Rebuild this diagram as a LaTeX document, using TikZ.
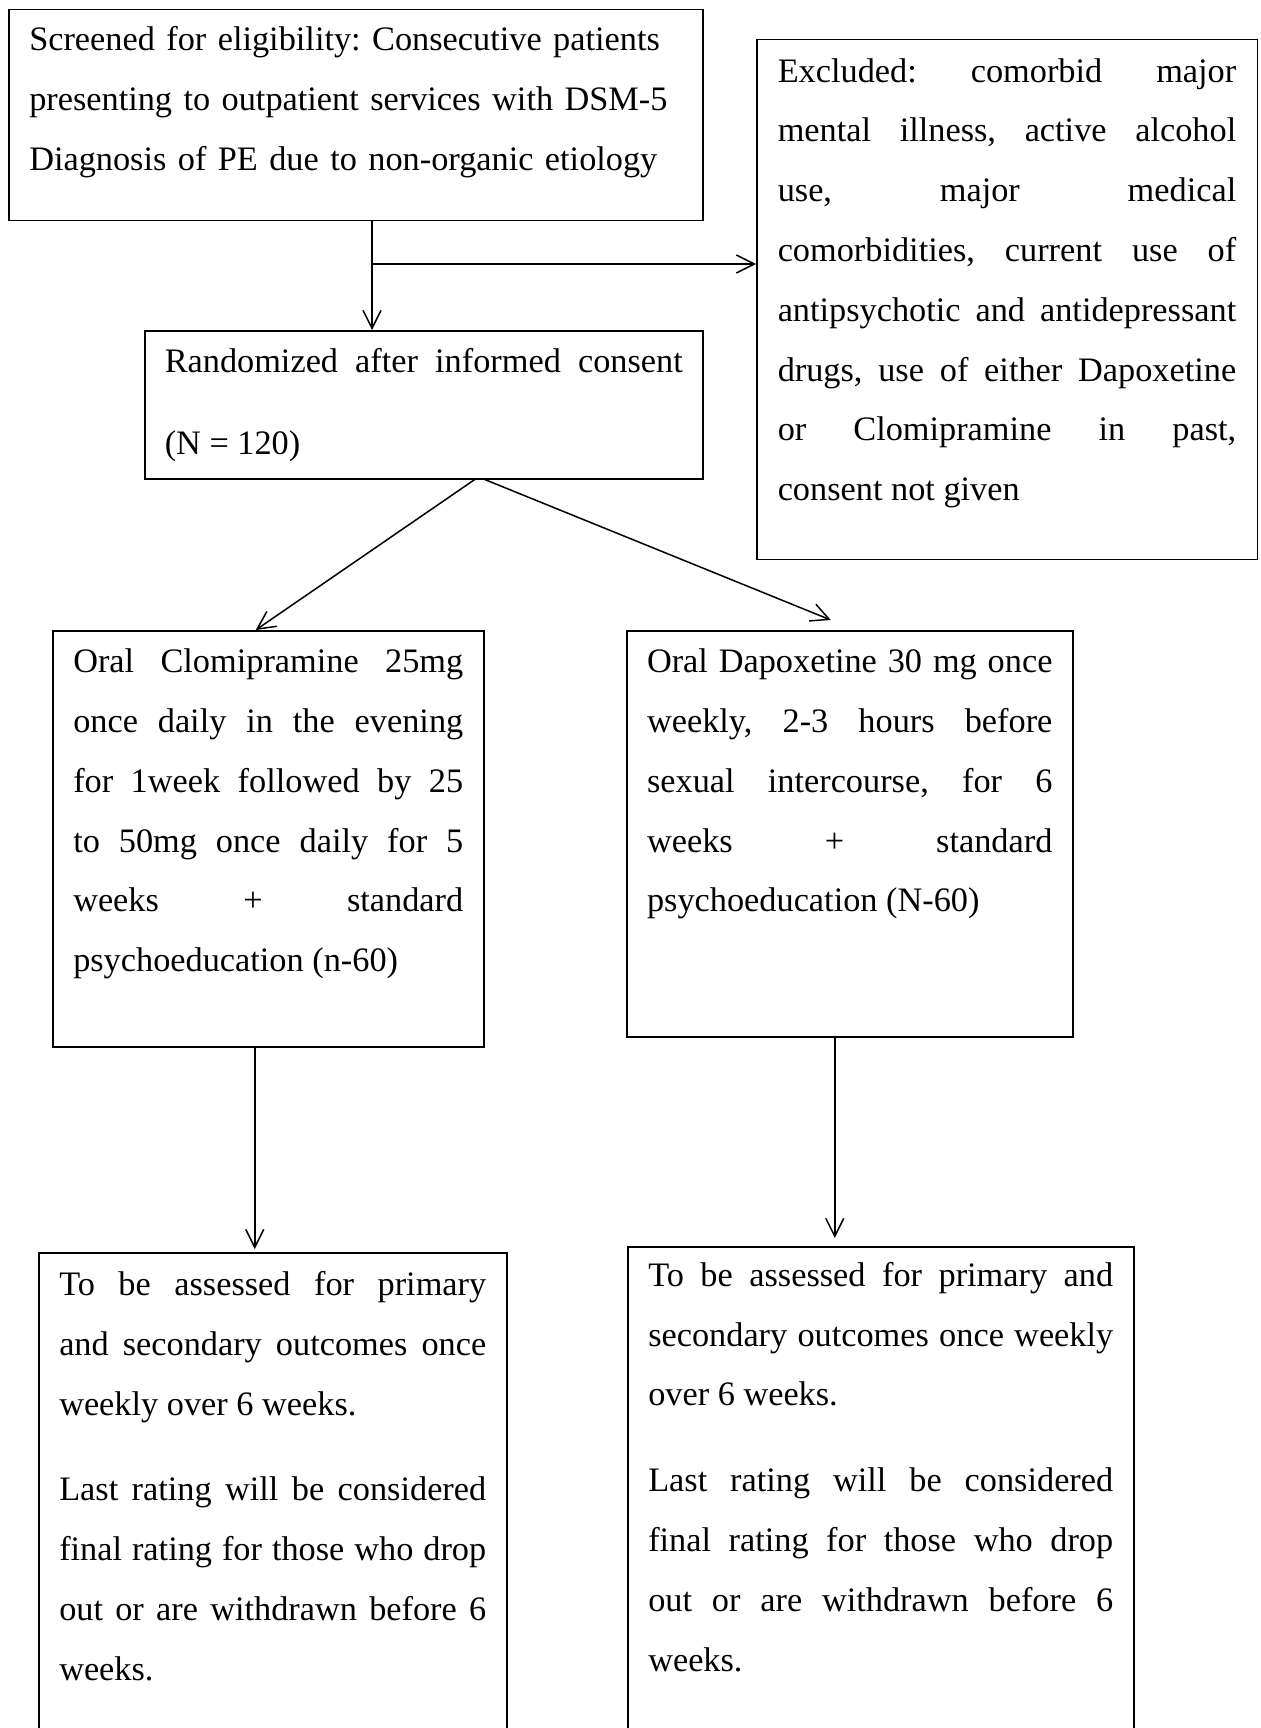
\documentclass[tikz,border=0pt]{standalone}
\usepackage{fontspec}
\setmainfont{Liberation Serif}
\usetikzlibrary{calc, arrows.meta}
\frenchspacing
\tikzset{
	FlowBox/.style={draw, line width=0.75pt, anchor=north west, inner ysep=0pt, align=justify,
		font=\fontsize{17.15}{29.9}\selectfont},
	FlowArrow/.style={line width=0.75pt, -{Straight Barb[length=9pt, width=9pt]}}
}

\begin{document}
\begin{tikzpicture}[x=0.5pt, y=-0.5pt]
	\path[use as bounding box, clip] (0,0) rectangle (1261,1728);

	% Screening, exclusion and randomisation
	\node[FlowBox, align=left, text width=326.5pt, inner xsep=10.25pt, text height=20.5pt, text depth=85pt] (screen) at (8,9)
		{Screened for eligibility: Consecutive patients\\presenting to outpatient services with DSM-5\\Diagnosis of PE due to non-organic etiology};
	\node[FlowBox, text width=229.25pt, inner xsep=10.5pt, text height=21.2pt, text depth=238.55pt] (excl) at (756,39)
		{Excluded: comorbid major\linebreak mental illness, active alcohol\linebreak use, major medical\linebreak
		comorbidities, current use of\linebreak antipsychotic and antidepressant\linebreak
		drugs, use of either Dapoxetine\linebreak or Clomipramine in past,\linebreak consent not given};
	\node[FlowBox, font=\fontsize{17.15}{41}\selectfont, text width=259pt, inner xsep=10pt, text height=21pt, text depth=53pt] (rand) at (144,330)
		{Randomized after informed consent\linebreak (N = 120)};

	% Treatment arms
	\node[FlowBox, text width=195pt, inner xsep=10.25pt, text height=21pt, text depth=187pt] (clom) at (52,630)
		{Oral Clomipramine 25mg\linebreak once daily in the evening\linebreak for 1week followed by 25\linebreak
		to 50mg once daily for 5\linebreak weeks + standard\linebreak psychoeducation (n-60)};
	\node[FlowBox, text width=202.7pt, inner xsep=10.15pt, text height=21pt, text depth=182pt] (dapo) at (626,630)
		{Oral Dapoxetine 30 mg once\linebreak weekly, 2-3 hours before\linebreak sexual intercourse, for 6\linebreak
		weeks + standard\linebreak psychoeducation (N-60)};

	% Assessment
	\node[FlowBox, text width=213.5pt, inner xsep=10.25pt, text height=21.4pt, text depth=232.5pt] (asscl) at (38,1252)
		{To be assessed for primary\linebreak and secondary outcomes once\linebreak weekly over 6 weeks.\par\vspace{13pt}
		Last rating will be considered\linebreak final rating for those who drop\linebreak out or are withdrawn before 6\linebreak weeks.};
	\node[FlowBox, text width=232.5pt, inner xsep=10.25pt, text height=19.75pt, text depth=237.25pt] (asdap) at (627,1246)
		{To be assessed for primary and\linebreak secondary outcomes once weekly\linebreak over 6 weeks.\par\vspace{13pt}
		Last rating will be considered\linebreak final rating for those who drop\linebreak out or are withdrawn before 6\linebreak weeks.};

	% Arrows
	\coordinate (split) at (372,264);
	\draw[FlowArrow] (screen.south -| split) -- (rand.north -| split);
	\draw[FlowArrow] (split) -- (excl.west |- split);
	\draw[FlowArrow] ($(rand.south)+(51,0)$) -- ($(clom.north)+(-12.5,0)$);
	\draw[FlowArrow] ($(rand.south)+(61,0)$) -- ($(dapo.north)+(-19,-10)$);
	\draw[FlowArrow] ($(clom.south)+(-13.5,0)$) coordinate (clomdown) -- ($(clomdown |- asscl.north)+(0,-3)$);
	\draw[FlowArrow] ($(dapo.south)+(-15,0)$) coordinate (dapodown) -- ($(dapodown |- asdap.north)+(0,-8)$);
\end{tikzpicture}
\end{document}
